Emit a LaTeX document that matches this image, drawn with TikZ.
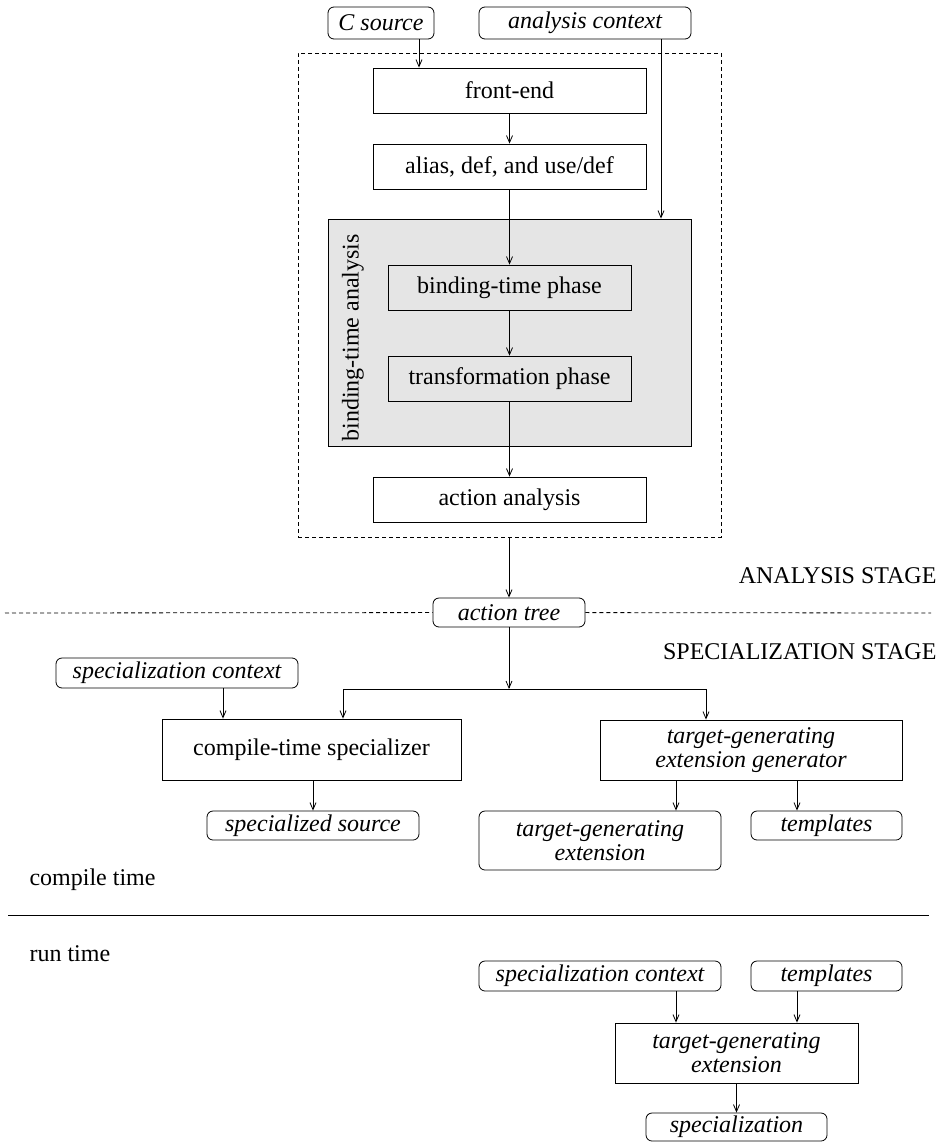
\documentclass[tikz,border=0pt]{standalone}
\usepackage{fontspec}
\setmainfont{Liberation Serif}
\usetikzlibrary{arrows.meta}
\newcommand{\figfont}{\fontsize{24}{24}\selectfont}

\begin{document}
\begin{tikzpicture}[x=1pt,y=-1pt,font=\figfont,
  >={Straight Barb[length=7pt,width=6pt]},
  box/.style={draw,line width=0.8pt,inner sep=0pt,minimum height=45pt,align=center},
  io/.style={draw,line width=0.8pt,rounded corners=6pt,inner sep=0pt,align=center,font=\figfont\itshape},
  arr/.style={->,line width=0.8pt},
  dsh/.style={line width=0.8pt,dash pattern=on 4pt off 3pt}]
  \useasboundingbox (0,0) rectangle (944,1142);
  % analysis stage
  \node[io,minimum width=106pt,minimum height=32pt] (src) at (381,23) {C source};
  \node[io,minimum width=212pt,minimum height=32pt] (actx) at (585,23) {analysis context};
  \node[dsh,draw,inner sep=0pt,minimum width=423pt,minimum height=484pt] (ana) at (509.5,295) {};
  \node[box,minimum width=273pt] (fe) at (509.5,90.5) {front-end};
  \node[box,minimum width=273pt] (alias) at (509.5,166.5) {alias, def, and use/def};
  \node[draw,line width=0.8pt,fill=black!10,inner sep=0pt,minimum width=363pt,minimum height=227pt] (bta) at (509.5,332.5) {};
  \node[rotate=90] (btal) at (353,338) {binding-time analysis};
  \node[box,minimum width=243pt] (btp) at (509.5,287.5) {binding-time phase};
  \node[box,minimum width=243pt] (trp) at (509.5,378.5) {transformation phase};
  \node[box,minimum width=273pt] (aa) at (509.5,499.5) {action analysis};
  \node[io,fill=white,minimum width=152pt,minimum height=29pt] (atree) at (509,612.5) {action tree};
  \node[anchor=base east] (ast) at (940,583) {ANALYSIS STAGE};
  \node[anchor=base east] (sst) at (940,659) {SPECIALIZATION STAGE};
  \coordinate (dl) at (5,613);
  \coordinate (dr) at (931,613);
  \draw[dsh] (dl) -- (atree);
  \draw[dsh] (atree) -- (dr);
  \coordinate (xs) at (419,0);
  \coordinate (xc) at (661,0);
  \draw[arr] (src.south -| xs) -- (fe.north -| xs);
  \draw[arr] (fe) -- (alias);
  \draw[arr] (actx.south -| xc) -- (bta.north -| xc);
  \draw[arr] (alias) -- (btp);
  \draw[arr] (btp) -- (trp);
  \draw[arr] (trp) -- (aa);
  \draw[arr] (ana.south -| atree) -- (atree);
  % specialization stage
  \node[io,minimum width=242pt,minimum height=30pt] (sctx) at (177,673) {specialization context};
  \node[box,minimum width=299pt,minimum height=61pt] (ctsp) at (311.5,749.5) {compile-time specializer};
  \node[box,minimum width=302pt,minimum height=60pt,font=\figfont\itshape] (tgeg) at (751,750) {target-generating\\extension generator};
  \node[io,minimum width=212pt,minimum height=29pt] (ssrc) at (313,825.5) {specialized source};
  \node[io,minimum width=242pt,minimum height=59pt] (tge) at (600,840.5) {target-generating\\extension};
  \node[io,minimum width=151pt,minimum height=29pt] (tpl) at (826.5,825.5) {templates};
  \coordinate (j) at (509,689);
  \coordinate (xl) at (343,0);
  \coordinate (xr) at (706,0);
  \coordinate (xa) at (223,0);
  \coordinate (xg) at (676,0);
  \coordinate (xt) at (797,0);
  \draw[arr] (atree) -- (j);
  \draw[arr] (j) -| (ctsp.north -| xl);
  \draw[arr] (j) -| (tgeg.north -| xr);
  \draw[arr] (sctx.south -| xa) -- (ctsp.north -| xa);
  \draw[arr] (ctsp.south -| ssrc) -- (ssrc);
  \draw[arr] (tgeg.south -| xg) -- (tge.north -| xg);
  \draw[arr] (tgeg.south -| xt) -- (tpl.north -| xt);
  % compile time / run time
  \node[anchor=base west] (ct) at (26,885) {compile time};
  \coordinate (ll) at (8,915);
  \coordinate (lr) at (929,915);
  \draw[line width=0.8pt] (ll) -- (lr);
  \node[anchor=base west] (rt) at (26,961) {run time};
  \node[io,minimum width=242pt,minimum height=30pt] (sctx2) at (600,976) {specialization context};
  \node[io,minimum width=151pt,minimum height=30pt] (tpl2) at (826.5,976) {templates};
  \node[box,minimum width=243pt,minimum height=60pt,font=\figfont\itshape] (tge2) at (736.5,1053) {target-generating\\extension};
  \node[io,minimum width=181pt,minimum height=28pt] (spec) at (736.5,1127) {specialization};
  \draw[arr] (sctx2.south -| xg) -- (tge2.north -| xg);
  \draw[arr] (tpl2.south -| xt) -- (tge2.north -| xt);
  \draw[arr] (tge2) -- (spec);
\end{tikzpicture}
\end{document}
